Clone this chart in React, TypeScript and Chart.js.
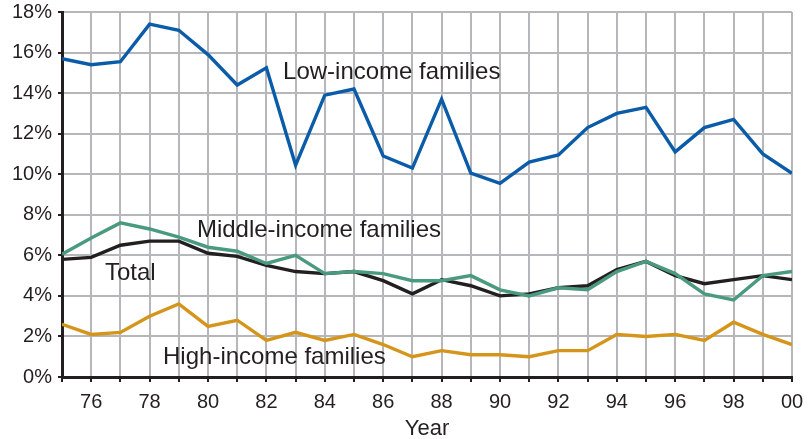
import React, { useEffect, useRef } from "react";
import { Chart, registerables } from "chart.js";

Chart.register(...registerables);

const years = [75, 76, 77, 78, 79, 80, 81, 82, 83, 84, 85, 86, 87, 88, 89, 90, 91, 92, 93, 94, 95, 96, 97, 98, 99, 100];
const lowIncome = [15.7, 15.4, 15.55, 17.4, 17.1, 15.9, 14.4, 15.25, 10.45, 13.9, 14.2, 10.9, 10.3, 13.7, 10.05, 9.55, 10.6, 10.95, 12.3, 13.0, 13.3, 11.1, 12.3, 12.7, 11.0, 10.05];
const middleIncome = [6.05, 6.85, 7.6, 7.3, 6.9, 6.4, 6.2, 5.6, 6.0, 5.1, 5.2, 5.1, 4.75, 4.75, 5.0, 4.3, 4.0, 4.4, 4.3, 5.2, 5.7, 5.1, 4.1, 3.8, 5.0, 5.2];
const total = [5.8, 5.9, 6.5, 6.7, 6.7, 6.1, 5.95, 5.5, 5.2, 5.1, 5.2, 4.75, 4.1, 4.8, 4.5, 4.0, 4.1, 4.4, 4.5, 5.3, 5.7, 5.0, 4.6, 4.8, 5.0, 4.8];
const highIncome = [2.6, 2.1, 2.2, 3.0, 3.6, 2.5, 2.8, 1.8, 2.2, 1.8, 2.1, 1.6, 1.0, 1.3, 1.1, 1.1, 1.0, 1.3, 1.3, 2.1, 2.0, 2.1, 1.8, 2.7, 2.1, 1.6];

const labelTexts = ["Low-income families", "Middle-income families", "Total", "High-income families"];
const labelYears = [82.57, 79.62, 76.47, 78.46];
const labelValues = [15.02, 7.25, 5.13, 0.97];

const FONT = "'Liberation Sans', Arial, Helvetica, sans-serif";
const INK = "#231f20";

const toPoints = (vals: number[]) => vals.map((v, i) => ({ x: years[i], y: v }));

const labelPlugin = {
  id: "seriesLabels",
  afterDatasetsDraw(chart: any) {
    const { ctx, scales } = chart;
    ctx.save();
    ctx.font = `24px ${FONT}`;
    ctx.fillStyle = INK;
    ctx.textAlign = "left";
    ctx.textBaseline = "middle";
    labelTexts.forEach((t, i) => {
      ctx.fillText(t, scales.x.getPixelForValue(labelYears[i]), scales.y.getPixelForValue(labelValues[i]));
    });
    ctx.restore();
  },
};

export default function App() {
  const ref = useRef<HTMLCanvasElement>(null);
  useEffect(() => {
    document.body.style.margin = "0";
    const chart = new Chart(ref.current!, {
      type: "line",
      data: {
        datasets: [
          { label: "Middle-income families", data: toPoints(middleIncome), borderColor: "#4a9a7f" },
          { label: "Total", data: toPoints(total), borderColor: INK },
          { label: "Low-income families", data: toPoints(lowIncome), borderColor: "#0a5ca8" },
          { label: "High-income families", data: toPoints(highIncome), borderColor: "#d4951a" },
        ].map((d) => ({ ...d, borderWidth: 3.4, pointRadius: 0, tension: 0, fill: false })),
      },
      options: {
        animation: false,
        responsive: false,
        layout: { padding: { top: 12, right: 16, left: 0, bottom: 0 } },
        plugins: { legend: { display: false }, tooltip: { enabled: false } },
        scales: {
          x: {
            type: "linear",
            min: 75,
            max: 100,
            afterFit: (s: any) => { s.height = 62; s.paddingLeft = 0; s.paddingRight = 0; },
            afterBuildTicks: (s: any) => { s.ticks = years.map((v) => ({ value: v })); },
            ticks: {
              autoSkip: false,
              maxRotation: 0,
              padding: 8,
              color: INK,
              font: { size: 20, family: FONT },
              callback: (v: any) => (Number(v) % 2 === 0 ? String(Number(v) % 100).padStart(2, "0") : ""),
            },
            grid: { color: "#b5b7ba", lineWidth: 2, drawTicks: true, tickLength: 5, tickColor: INK },
            border: { color: INK, width: 3 },
            title: { display: true, text: "Year", color: INK, font: { size: 22, family: FONT }, padding: { top: 0, bottom: -3 } },
          },
          y: {
            min: 0,
            max: 18,
            afterFit: (s: any) => { s.width = 62; s.paddingTop = 0; s.paddingBottom = 0; },
            ticks: {
              stepSize: 2,
              padding: 6,
              color: INK,
              font: { size: 20, family: FONT },
              callback: (v: any) => `${v}%`,
            },
            grid: { color: "#b5b7ba", lineWidth: 2, drawTicks: true, tickLength: 4, tickColor: INK },
            border: { color: INK, width: 3 },
          },
        },
      },
      plugins: [labelPlugin],
    } as any);
    return () => chart.destroy();
  }, []);
  return <canvas ref={ref} width={808} height={439} style={{ display: "block" }} />;
}
